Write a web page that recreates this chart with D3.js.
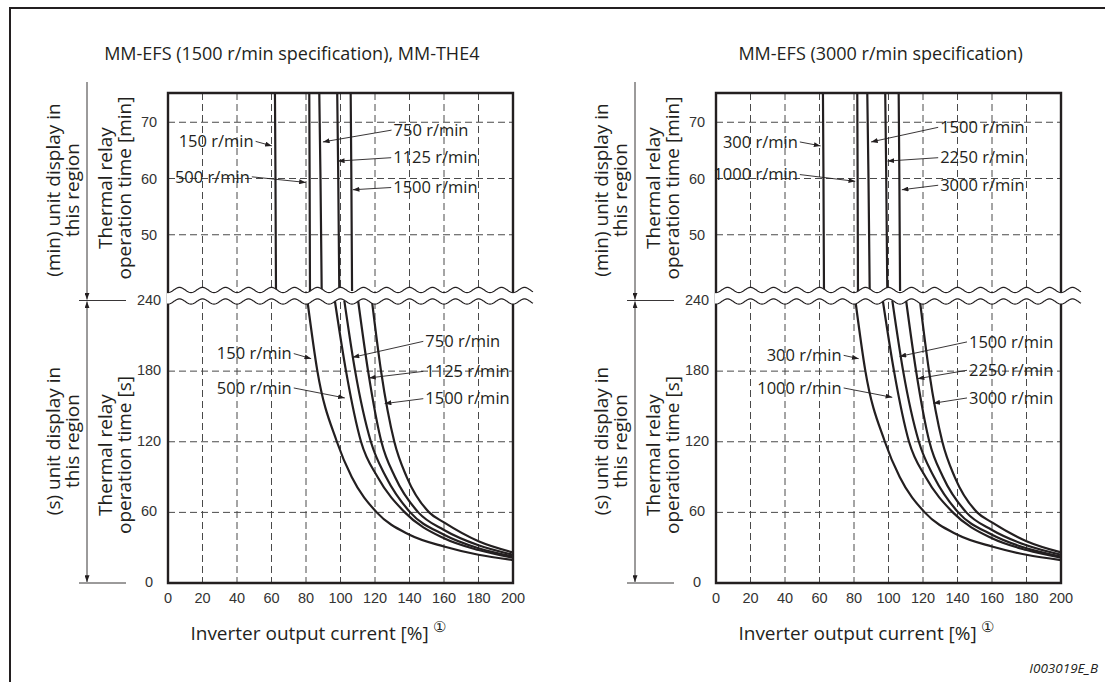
<!DOCTYPE html>
<html><head><meta charset="utf-8">
<script src="https://cdn.jsdelivr.net/npm/d3@7"></script>
<style>
body{margin:0;background:#fff;}
svg text{font-family:"Open Sans",sans-serif;fill:#231f20;}
svg text.num{font-family:"Liberation Sans",Arial,sans-serif;fill:#333;}
</style></head><body><svg id="c" width="1105" height="682"></svg>
<script>
// ---------------- data ----------------
const titles = ["MM-EFS (1500 r/min specification), MM-THE4", "MM-EFS (3000 r/min specification)"];
const xTicks = [0,20,40,60,80,100,120,140,160,180,200];
const yTicksMin = [50,60,70];
const yTicksSec = [0,60,120,180,240];
const speedsLeft = ["150 r/min","500 r/min","750 r/min","1125 r/min","1500 r/min"];
const speedsRight = ["300 r/min","1000 r/min","1500 r/min","2250 r/min","3000 r/min"];
const xTitle = "Inverter output current [%]";
const xNote = "\u2460";
const yTitleMin = ["Thermal relay","operation time [min]"];
const yTitleSec = ["Thermal relay","operation time [s]"];
const regionMin = ["(min) unit display in","this region"];
const regionSec = ["(s) unit display in","this region"];
const figId = "I003019E_B";
// minute region: [current %, minutes]
const minCurve1 = [[62.6,40],[62.3,60],[62.0,75.2]];
const minCurve2 = [[82.3,40],[82.1,60],[81.9,75.2]];
const minCurve3 = [[89.1,40],[88.4,60],[87.7,75.2]];
const minCurve4 = [[99.3,40],[98.7,60],[98.1,75.2]];
const minCurve5 = [[106.7,40],[106.3,60],[105.9,75.2]];
// second region: [current %, seconds]
const secCurve1 = [[80.8,240],[86.6,180],[97.9,120],[106.5,90],[121,60],[140,41],[160,31],[180,24],[200,19.5]];
const secCurve2 = [[96.7,240],[103.2,180],[111.9,120],[121.5,90],[137.3,60],[160,38],[180,28],[200,21.5]];
const secCurve3 = [[102.2,240],[108.5,180],[117.6,120],[126.4,90],[140.4,60],[160,41],[180,29.5],[200,22.5]];
const secCurve4 = [[110.2,240],[116,180],[123.7,120],[131.6,90],[145.1,60],[160,45],[180,32],[200,24]];
const secCurve5 = [[118.2,240],[123.5,180],[131.2,120],[138.4,90],[151.4,60],[160,51.5],[180,35.5],[200,26]];
const minCurves = [minCurve1,minCurve2,minCurve3,minCurve4,minCurve5];
const secCurves = [secCurve1,secCurve2,secCurve3,secCurve4,secCurve5];

// ---------------- layout ----------------
const plotW = 345, yTop = 93, yBreak = 291, yBreak2 = 300.5, yBottom = 583;
const panels = [
  {x0:168, title:titles[0], titlePct:-37, speeds:speedsLeft,
   annMin:[[50.8,66.6,60.2,65.8,"L"],[48.6,60.3,79.9,59.3,"L"],[129.6,68.6,89.8,66.5,"R"],[129.4,63.7,98.5,63.1,"R"],[129.4,58.4,107.1,58.0,"R"]],
   annSec:[[72.9,194.9,83,190.6,"L"],[72.9,165.7,102.5,157.2,"L"],[148,205.3,107,191.7,"R"],[148,179.8,116.6,174.2,"R"],[148,156.6,125.6,152.4,"R"]]},
  {x0:716, title:titles[1], titlePct:13, speeds:speedsRight,
   annMin:[[48.6,66.5,60.6,65.8,"L"],[48.6,60.7,80.7,59.5,"L"],[128.8,69.1,89.9,66.5,"R"],[128.8,63.7,99.4,63.1,"R"],[128.8,58.8,107.7,58.0,"R"]],
   annSec:[[74,193.4,82.7,190.6,"L"],[74,165.7,102.2,157.7,"L"],[145.5,204.8,106.4,192.5,"R"],[145.5,180.7,116.9,173.6,"R"],[145.5,157.2,126,152.7,"R"]]}
];
const ink = "#231f20";
const svg = d3.select("#c");
const defs = svg.append("defs");
defs.append("marker").attr("id","ah").attr("viewBox","0 0 8 6").attr("refX",8).attr("refY",3)
  .attr("markerWidth",7).attr("markerHeight",5).attr("markerUnits","userSpaceOnUse").attr("orient","auto")
  .append("path").attr("d","M0,0L8,3L0,6Z").attr("fill",ink);
defs.append("marker").attr("id","ahs").attr("viewBox","0 0 8 6").attr("refX",0).attr("refY",3)
  .attr("markerWidth",7).attr("markerHeight",5).attr("markerUnits","userSpaceOnUse").attr("orient","auto")
  .append("path").attr("d","M8,0L0,3L8,6Z").attr("fill",ink);

// outer border
svg.append("path").attr("d","M10,682V8H1105").attr("fill","none").attr("stroke",ink).attr("stroke-width",2);

const yMin = d3.scaleLinear().domain([40,75.2]).range([yBreak,yTop]);
const ySec = d3.scaleLinear().domain([0,240]).range([yBottom,yBreak2]);

panels.forEach(p=>{
  const x = d3.scaleLinear().domain([0,200]).range([p.x0,p.x0+plotW]);
  const g = svg.append("g");
  // title
  g.append("text").attr("x",x(p.titlePct)).attr("y",60).attr("text-anchor","start").attr("font-size",18).text(p.title);
  // grid
  const grid = g.append("g").attr("stroke","#4a4a4a").attr("stroke-width",1).attr("stroke-dasharray","7,4").attr("fill","none");
  grid.selectAll(".vg").data(xTicks.slice(1,-1)).join("line")
    .attr("x1",d=>x(d)).attr("x2",d=>x(d)).attr("y1",yTop).attr("y2",yBottom);
  grid.selectAll(".hm").data(yTicksMin).join("line").attr("class","hm")
    .attr("x1",x(0)).attr("x2",x(200)).attr("y1",d=>yMin(d)).attr("y2",d=>yMin(d));
  grid.selectAll(".hs").data(yTicksSec.slice(1,-1)).join("line").attr("class","hs")
    .attr("x1",x(0)).attr("x2",x(200)).attr("y1",d=>ySec(d)).attr("y2",d=>ySec(d));
  // frame
  g.append("path").attr("d",`M${x(0)},${yBottom}V${yTop}H${x(200)}V${yBottom}Z`)
    .attr("fill","none").attr("stroke",ink).attr("stroke-width",2.4);
  // curves
  const lm = d3.line().x(d=>x(d[0])).y(d=>yMin(d[1])).curve(d3.curveMonotoneY);
  const ls = d3.line().x(d=>x(d[0])).y(d=>ySec(d[1])).curve(d3.curveMonotoneX);
  g.selectAll(".cm").data(minCurves).join("path").attr("d",lm).attr("fill","none").attr("stroke",ink).attr("stroke-width",2.2);
  g.selectAll(".cs").data(secCurves).join("path").attr("d",ls).attr("fill","none").attr("stroke",ink).attr("stroke-width",2.2);
  // wavy break
  const P = (x(20)-x(0))*2/3, A = 2.6;
  const xa = x(0)-1, xb = x(200)+20;
  const up = [], lo = [];
  for(let xx=xa; xx<=xb; xx+=1){
    const c = Math.cos(2*Math.PI*(xx-x(0))/P);
    up.push([xx, yBreak-1+A*c]); lo.push([xx, yBreak2+1+A*c]);
  }
  g.append("path").attr("d","M"+up.map(d=>d.join(",")).join("L")+"L"+lo.slice().reverse().map(d=>d.join(",")).join("L")+"Z")
    .attr("fill","#fff");
  [up,lo].forEach(w=>g.append("path").attr("d","M"+w.map(d=>d.join(",")).join("L"))
    .attr("fill","none").attr("stroke",ink).attr("stroke-width",1.2));
  // tick labels
  g.selectAll(".tx").data(xTicks).join("text").attr("class","num").attr("x",d=>x(d)).attr("y",598).attr("dy","0.35em")
    .attr("text-anchor","middle").attr("font-size",14.5).text(d=>d);
  g.selectAll(".tym").data(yTicksMin).join("text").attr("class","num").attr("x",x(0)-19).attr("y",d=>yMin(d)).attr("dy","0.35em")
    .attr("text-anchor","middle").attr("font-size",14.5).text(d=>d);
  g.selectAll(".tys").data(yTicksSec).join("text").attr("class","num").attr("x",x(0)-19).attr("y",d=>ySec(d)-1).attr("dy","0.35em")
    .attr("text-anchor","middle").attr("font-size",14.5).text(d=>d);
  // x title
  g.append("text").attr("x",x(13)).attr("y",640).attr("text-anchor","start").attr("font-size",19).text(xTitle);
  g.append("text").attr("x",x(153.5)).attr("y",632).attr("text-anchor","start").attr("font-size",15).text(xNote);
  // annotations
  const ann = (list, ys) => list.forEach((a,i)=>{
    const sx=x(a[0]), sy=ys(a[1]), hx=x(a[2]), hy=ys(a[3]);
    g.append("line").attr("x1",sx).attr("y1",sy).attr("x2",hx).attr("y2",hy)
      .attr("stroke",ink).attr("stroke-width",0.9).attr("marker-end","url(#ah)");
    g.append("text").attr("x",a[4]==="L"? sx-2 : sx+2).attr("y",sy).attr("dy","0.35em")
      .attr("text-anchor",a[4]==="L"?"end":"start").attr("font-size",16.5).text(p.speeds[i]);
  });
  ann(p.annMin, yMin); ann(p.annSec, ySec);
  // left side region annotation
  const ax = x(0)-81;
  const side = g.append("g").attr("stroke",ink).attr("stroke-width",0.9);
  side.append("line").attr("x1",ax).attr("x2",ax).attr("y1",82).attr("y2",ySec(240)-1).attr("marker-end","url(#ah)");
  side.append("line").attr("x1",ax).attr("x2",ax).attr("y1",ySec(240)+1).attr("y2",ySec(0)-1)
    .attr("marker-end","url(#ah)").attr("marker-start","url(#ahs)");
  side.selectAll(".hl").data([240,0]).join("line").attr("x1",ax-8).attr("x2",ax+39)
    .attr("y1",d=>ySec(d)).attr("y2",d=>ySec(d));
  const rot = (lines, cx1, cx2, cy) => {
    [cx1,cx2].forEach((cx,k)=>g.append("text").attr("transform",`translate(${cx},${cy}) rotate(-90)`)
      .attr("text-anchor","middle").attr("dy","0.35em").attr("font-size",19).text(lines[k]));
  };
  rot(regionMin, x(0)-115, x(0)-96, 190);
  rot(yTitleMin, x(0)-63, x(0)-44, 188);
  rot(regionSec, x(0)-115, x(0)-96, 441);
  rot(yTitleSec, x(0)-63, x(0)-44, 455);
});
svg.append("text").attr("x",1098).attr("y",673).attr("text-anchor","end").attr("font-style","italic")
  .attr("font-size",13.5).text(figId);
</script></body></html>
